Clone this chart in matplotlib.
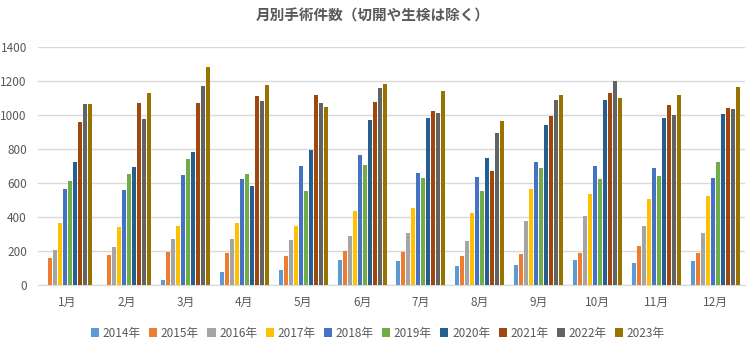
import matplotlib
matplotlib.use("Agg")
import matplotlib.pyplot as plt
import numpy as np

plt.rcParams['font.family'] = ['Noto Sans CJK JP', 'DejaVu Sans']

months = ["1月", "2月", "3月", "4月", "5月", "6月", "7月", "8月", "9月", "10月", "11月", "12月"]
years = ["2014年", "2015年", "2016年", "2017年", "2018年", "2019年", "2020年", "2021年", "2022年", "2023年"]

v2014 = [0, 0, 33, 78, 90, 149, 143, 114, 119, 149, 131, 143]
v2015 = [163, 178, 196, 190, 172, 202, 196, 172, 184, 190, 231, 190]
v2016 = [208, 225, 272, 272, 266, 290, 308, 261, 378, 407, 349, 308]
v2017 = [368, 343, 349, 366, 349, 437, 454, 425, 566, 537, 507, 525]
v2018 = [566, 560, 648, 625, 701, 766, 660, 637, 725, 701, 690, 631]
v2019 = [613, 654, 742, 654, 554, 707, 631, 554, 690, 625, 643, 725]
v2020 = [725, 695, 784, 584, 795, 972, 983, 748, 942, 1089, 983, 1007]
v2021 = [960, 1072, 1072, 1113, 1119, 1077, 1025, 672, 995, 1130, 1060, 1042]
v2022 = [1066, 978, 1171, 1083, 1072, 1160, 1013, 895, 1089, 1201, 1001, 1036]
v2023 = [1066, 1130, 1283, 1177, 1048, 1183, 1142, 966, 1119, 1101, 1119, 1166]

series = [v2014, v2015, v2016, v2017, v2018, v2019, v2020, v2021, v2022, v2023]
colors = ["#5B9BD5", "#ED7D31", "#A5A5A5", "#FFC000", "#4472C4",
          "#70AD47", "#255E91", "#9E480E", "#636363", "#997300"]

fig = plt.figure(figsize=(7.53, 3.45), dpi=100)
ax = fig.add_axes([38/753, 1 - 285.3/345, (745 - 38)/753, (285.3 - 46.7)/345])

x = np.arange(len(months))
slot = 0.085
width = slot * 0.8
n = len(series)
for i, (vals, c, lab) in enumerate(zip(series, colors, years)):
    offs = (i - (n - 1) / 2) * slot
    ax.bar(x + offs, vals, width=width, color=c, label=lab, zorder=3)

ax.set_xlim(-0.5, len(months) - 0.5)
ax.set_ylim(0, 1400)
ax.set_yticks(np.arange(0, 1401, 200))
ax.set_xticks(x)
ax.set_xticklabels(months)
ax.grid(axis='y', color='#D9D9D9', linewidth=1, zorder=0)
for s in ['top', 'right', 'left']:
    ax.spines[s].set_visible(False)
ax.spines['bottom'].set_color('#D9D9D9')
ax.tick_params(axis='both', length=0, colors='#595959', labelsize=8.5)
ax.tick_params(axis='y', pad=8)
ax.tick_params(axis='x', pad=8)

fig.text(373/753, 1 - 16/345, "月別手術件数（切開や生検は除く）", ha='center', va='center',
         fontsize=10.5, fontweight='bold', color='#595959')

leg = fig.legend(loc='center', bbox_to_anchor=(378/753, 1 - 333/345), ncol=10,
                 frameon=False, fontsize=8.5, handlelength=0.7, handleheight=0.7,
                 handletextpad=0.3, columnspacing=0.7)
for t in leg.get_texts():
    t.set_color('#595959')

fig.savefig("out.png", dpi=100)
